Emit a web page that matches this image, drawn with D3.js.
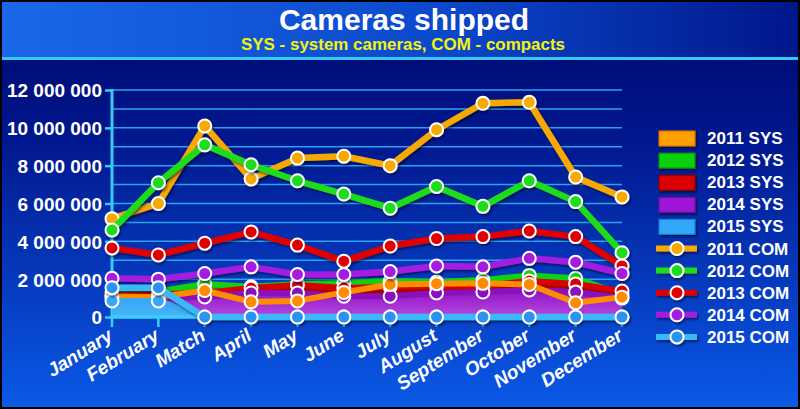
<!DOCTYPE html>
<html>
<head>
<meta charset="utf-8">
<script src="https://cdn.jsdelivr.net/npm/d3@7"></script>
<style>
  html, body { margin: 0; padding: 0; background: #000; }
  svg { display: block; }
  text { font-family: "Liberation Sans", Arial, sans-serif; font-weight: bold; }
</style>
</head>
<body>
<svg id="chart" width="800" height="409"></svg>
<script>
// ---------- DATA ----------
const months = ["January","February","Match","April","May","June","July","August","September","October","November","December"];
const yTicks = [0, 2000000, 4000000, 6000000, 8000000, 10000000, 12000000];
const title = "Cameras shipped";
const subtitle = "SYS - system cameras, COM - compacts";

// system cameras (areas), millions
const sys2011 = [1.10, 1.05, 1.40, 0.80, 0.85, 1.30, 1.72, 1.76, 1.78, 1.72, 0.75, 1.05];
const sys2012 = [1.30, 1.35, 1.75, 1.60, 1.75, 1.80, 1.90, 1.85, 1.95, 2.20, 2.05, 1.20];
const sys2013 = [1.15, 1.20, 1.27, 1.53, 1.69, 1.53, 1.60, 1.64, 1.64, 1.90, 1.75, 1.37];
const sys2014 = [1.00, 1.00, 1.06, 1.27, 1.27, 1.10, 1.10, 1.27, 1.32, 1.43, 1.32, 1.00];
const sys2015 = [0.85, 0.85, 0, 0, 0, 0, 0, 0, 0, 0, 0, 0];

// compacts (lines), millions
const com2011 = [5.20, 6.00, 10.10, 7.30, 8.40, 8.50, 8.00, 9.90, 11.30, 11.35, 7.40, 6.35];
const com2012 = [4.60, 7.10, 9.10, 8.05, 7.20, 6.50, 5.75, 6.90, 5.85, 7.20, 6.10, 3.40];
const com2013 = [3.65, 3.28, 3.90, 4.50, 3.80, 2.95, 3.75, 4.15, 4.25, 4.55, 4.25, 2.70];
const com2014 = [2.05, 2.00, 2.30, 2.65, 2.25, 2.25, 2.40, 2.70, 2.65, 3.10, 2.90, 2.30];
const com2015 = [1.55, 1.55, 0, 0, 0, 0, 0, 0, 0, 0, 0, 0];

// ---------- STYLES ----------
const sysSeries = [
  {name:"2012 SYS", values: sys2012, stroke:"#12d012", fillTop:"#0fb80f", fillBot:"#0a8f0a", fillOp:1},
  {name:"2013 SYS", values: sys2013, stroke:"#d80000", fillTop:"#b00000", fillBot:"#900000", fillOp:1},
  {name:"2014 SYS", values: sys2014, stroke:"#8a10bc", fillTop:"#8e14c4", fillBot:"#b848e0", fillOp:1},
  {name:"2011 SYS", values: sys2011, stroke:"#ff8c00", fillTop:"#ff9000", fillBot:"#ff9000", fillOp:0},
  {name:"2015 SYS", values: sys2015, stroke:"#3aa8f5", fillTop:"#3aa8f5", fillBot:"#4ab4f8", fillOp:1}
];
const comSeries = [
  {name:"2011 COM", values: com2011, color:"#f7a900"},
  {name:"2012 COM", values: com2012, color:"#1edc1e"},
  {name:"2013 COM", values: com2013, color:"#e00000"},
  {name:"2014 COM", values: com2014, color:"#a41ee0"},
  {name:"2015 COM", values: com2015, color:"#2a92f2", line:"#3ab8f8"}
];
const legendItems = [
  {name:"2011 SYS", type:"rect", color:"#ffa000", dark:"#d07000"},
  {name:"2012 SYS", type:"rect", color:"#10d010", dark:"#089008"},
  {name:"2013 SYS", type:"rect", color:"#dd0000", dark:"#900000"},
  {name:"2014 SYS", type:"rect", color:"#a014d8", dark:"#7010a0"},
  {name:"2015 SYS", type:"rect", color:"#30a8f8", dark:"#1880d0"},
  {name:"2011 COM", type:"line", color:"#f7a900"},
  {name:"2012 COM", type:"line", color:"#1edc1e"},
  {name:"2013 COM", type:"line", color:"#e00000"},
  {name:"2014 COM", type:"line", color:"#a41ee0"},
  {name:"2015 COM", type:"line", color:"#2a92f2", line:"#3ab8f8"}
];

// ---------- DRAW ----------
const svg = d3.select("#chart");
const W = 800, H = 409;
const defs = svg.append("defs");

const bg = defs.append("linearGradient").attr("id","bg").attr("x1",0).attr("y1",0).attr("x2",0).attr("y2",1);
bg.append("stop").attr("offset","0%").attr("stop-color","#00066a");
bg.append("stop").attr("offset","35%").attr("stop-color","#01188f");
bg.append("stop").attr("offset","100%").attr("stop-color","#0a5ae8");

const tg = defs.append("linearGradient").attr("id","tg").attr("x1",0).attr("y1",0).attr("x2",1).attr("y2",0);
tg.append("stop").attr("offset","0%").attr("stop-color","#1a68e8");
tg.append("stop").attr("offset","55%").attr("stop-color","#0c48cc");
tg.append("stop").attr("offset","100%").attr("stop-color","#00168a");

const shadow = defs.append("filter").attr("id","sh").attr("x","-10%").attr("y","-10%").attr("width","130%").attr("height","140%");
shadow.append("feDropShadow").attr("dx",1.5).attr("dy",2).attr("stdDeviation",1.2).attr("flood-color","#000020").attr("flood-opacity",0.55);

svg.append("rect").attr("width",W).attr("height",H).attr("fill","url(#bg)");
svg.append("rect").attr("width",W).attr("height",57).attr("fill","url(#tg)");
svg.append("rect").attr("y",57).attr("width",W).attr("height",3).attr("fill","#38c8f2");

svg.append("text").attr("x",404).attr("y",30).attr("text-anchor","middle")
  .attr("fill","#fff").attr("font-size",30).text(title);
svg.append("text").attr("x",403).attr("y",50).attr("text-anchor","middle")
  .attr("fill","#f4f410").attr("font-size",16.8).attr("textLength",324).attr("lengthAdjust","spacingAndGlyphs").text(subtitle);

const x = d3.scalePoint().domain(months).range([112, 622]);
const y = d3.scaleLinear().domain([0, 12000000]).range([317, 90]);
const M = 1000000;

// grid
const gridVals = d3.range(1, 13).map(d => d * M);
svg.append("g").selectAll("line").data(gridVals).join("line")
  .attr("x1", 112).attr("x2", 622).attr("y1", d => y(d)).attr("y2", d => y(d))
  .attr("stroke", "#2aa2f0").attr("stroke-width", 1.5);

// y axis
const yAxis = svg.append("g").attr("transform","translate(112,0)")
  .call(d3.axisLeft(y).tickValues(yTicks).tickSize(7).tickPadding(3)
    .tickFormat(d => d3.format(",")(d).replace(/,/g, " ")));
yAxis.select(".domain").remove();
yAxis.selectAll(".tick line").attr("stroke","#36cbf6").attr("stroke-width",2.5);
yAxis.selectAll(".tick text").attr("fill","#fff").attr("font-size",19)
  .attr("font-family","Liberation Sans, Arial, sans-serif").attr("font-weight","bold").attr("dy","0.36em");
svg.append("line").attr("x1",112).attr("x2",112).attr("y1",89).attr("y2",318)
  .attr("stroke","#36cbf6").attr("stroke-width",3);

// SYS areas
sysSeries.forEach((s, i) => {
  const gid = "ag" + i;
  const g = defs.append("linearGradient").attr("id", gid).attr("x1",0).attr("y1",0).attr("x2",0).attr("y2",1);
  g.append("stop").attr("offset","0%").attr("stop-color", s.fillTop).attr("stop-opacity", s.fillOp);
  g.append("stop").attr("offset","100%").attr("stop-color", s.fillBot).attr("stop-opacity", s.fillOp);
  const area = d3.area().x((d, j) => x(months[j])).y0(y(0)).y1(d => y(d * M));
  const line = d3.line().x((d, j) => x(months[j])).y(d => y(d * M));
  svg.append("path").datum(s.values).attr("d", area).attr("fill", "url(#" + gid + ")");
  svg.append("path").datum(s.values).attr("d", line).attr("fill","none")
    .attr("stroke", s.stroke).attr("stroke-width", 6).attr("stroke-linejoin","round");
  svg.append("g").selectAll("circle").data(s.values).join("circle")
    .attr("cx", (d, j) => x(months[j])).attr("cy", d => y(d * M)).attr("r", 6.5)
    .attr("fill", s.stroke).attr("stroke", "#fff").attr("stroke-width", 2);
});

// x axis
svg.append("line").attr("x1",111).attr("x2",623).attr("y1",317).attr("y2",317)
  .attr("stroke","#36d0f8").attr("stroke-width",3.5);
svg.append("g").selectAll("line").data(months).join("line")
  .attr("x1", d => x(d)).attr("x2", d => x(d)).attr("y1", 317).attr("y2", 327)
  .attr("stroke","#36d0f8").attr("stroke-width",2.5);

// COM lines
comSeries.forEach(s => {
  const line = d3.line().x((d, j) => x(months[j])).y(d => y(d * M));
  const g = svg.append("g").attr("filter","url(#sh)");
  g.append("path").datum(s.values).attr("d", line).attr("fill","none")
    .attr("stroke", s.line || s.color).attr("stroke-width", 6.5).attr("stroke-linejoin","round");
  g.selectAll("circle").data(s.values).join("circle")
    .attr("cx", (d, j) => x(months[j])).attr("cy", d => y(d * M)).attr("r", 6.5)
    .attr("fill", s.color).attr("stroke", "#fff").attr("stroke-width", 2);
});

// x labels
svg.append("g").selectAll("text").data(months).join("text")
  .attr("transform", d => `translate(${x(d) + 2},${339}) rotate(-32)`)
  .attr("text-anchor","end").attr("fill","#fff").attr("font-size",19)
  .attr("font-style","italic").text(d => d);

// legend
const lg = svg.append("g");
legendItems.forEach((it, i) => {
  const cy = 138 + i * 22.1;
  if (it.type === "rect") {
    lg.append("rect").attr("x",659).attr("y",cy - 7).attr("width",36).attr("height",15)
      .attr("fill", it.color).attr("stroke", it.dark).attr("stroke-width",1.2).attr("filter","url(#sh)");
  } else {
    const gg = lg.append("g").attr("filter","url(#sh)");
    gg.append("line").attr("x1",656).attr("x2",697).attr("y1",cy).attr("y2",cy)
      .attr("stroke", it.line || it.color).attr("stroke-width",6);
    gg.append("circle").attr("cx",677).attr("cy",cy).attr("r",6.5)
      .attr("fill", it.color).attr("stroke","#fff").attr("stroke-width",2);
  }
  lg.append("text").attr("x",707).attr("y",cy + 6).attr("fill","#fff").attr("font-size",17).text(it.name);
});

// border
svg.append("rect").attr("x",1).attr("y",1).attr("width",W-2).attr("height",H-2)
  .attr("fill","none").attr("stroke","#000").attr("stroke-width",2);
</script>
</body>
</html>
